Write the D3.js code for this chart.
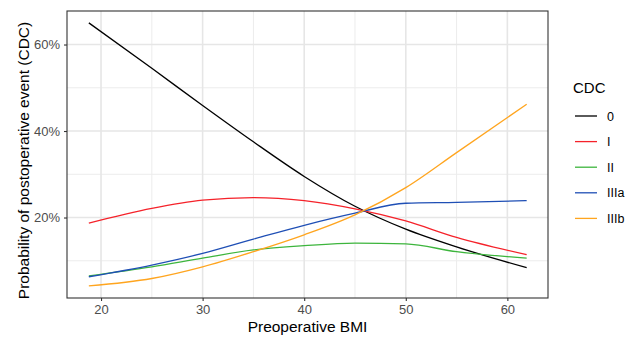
<!DOCTYPE html>
<html>
<head>
<meta charset="utf-8">
<script src="https://cdn.jsdelivr.net/npm/d3@7"></script>
<style>
  body { margin: 0; background: #fff; }
  svg text { font-family: "Liberation Sans", Arial, sans-serif; }
</style>
</head>
<body>
<div id="chart"></div>
<script>
// BMI grid the predictions were read at
const bmi = [18.8, 25, 30, 35, 40, 45, 50, 55, 61.9];

// predicted probability (%) per CDC grade
const cdc0    = [65.0, 54.5, 45.9, 37.5, 29.5, 22.6, 17.3, 13.2, 8.4];
const cdcI    = [18.7, 22.1, 24.0, 24.6, 23.9, 22.0, 19.2, 15.4, 11.4];
const cdcII   = [6.5, 8.6, 10.6, 12.5, 13.5, 14.1, 13.9, 12.1, 10.6];
const cdcIIIa = [6.3, 9.0, 11.7, 15.0, 18.2, 21.0, 23.3, 23.5, 23.9];
const cdcIIIb = [4.2, 5.9, 8.6, 12.1, 16.0, 20.6, 26.9, 35.0, 46.2];

const grades = ['0', 'I', 'II', 'IIIa', 'IIIb'];
const colors = ['#000000', '#f5222a', '#3db53d', '#1f4fb5', '#ffa51f'];

const xTicks = [20, 30, 40, 50, 60];
const xMinor = [25, 35, 45, 55];
const yTicks = [20, 40, 60];
const yMinor = [10, 30, 50];

const series = [cdc0, cdcI, cdcII, cdcIIIa, cdcIIIb].map((vals, i) => ({
    grade: grades[i],
    color: colors[i],
    values: vals.map((v, j) => ({ x: bmi[j], y: v }))
}));

const width = 640, height = 337;
const panel = { left: 67, right: 548, top: 11, bottom: 298 };

const svg = d3.select('#chart').append('svg')
    .attr('width', width)
    .attr('height', height);

const x = d3.scaleLinear().domain([16.65, 64.0]).range([panel.left, panel.right]);
const y = d3.scaleLinear().domain([1.39, 67.75]).range([panel.bottom, panel.top]);

// grid
const grid = svg.append('g');
grid.selectAll('.xminor').data(xMinor).enter().append('line')
    .attr('x1', d => x(d)).attr('x2', d => x(d))
    .attr('y1', panel.top).attr('y2', panel.bottom)
    .attr('stroke', '#ececec').attr('stroke-width', 1);
grid.selectAll('.yminor').data(yMinor).enter().append('line')
    .attr('y1', d => y(d)).attr('y2', d => y(d))
    .attr('x1', panel.left).attr('x2', panel.right)
    .attr('stroke', '#ececec').attr('stroke-width', 1);
grid.selectAll('.xmajor').data(xTicks).enter().append('line')
    .attr('x1', d => x(d)).attr('x2', d => x(d))
    .attr('y1', panel.top).attr('y2', panel.bottom)
    .attr('stroke', '#e6e6e6').attr('stroke-width', 1.6);
grid.selectAll('.ymajor').data(yTicks).enter().append('line')
    .attr('y1', d => y(d)).attr('y2', d => y(d))
    .attr('x1', panel.left).attr('x2', panel.right)
    .attr('stroke', '#e6e6e6').attr('stroke-width', 1.6);

// lines
const line = d3.line()
    .x(d => x(d.x))
    .y(d => y(d.y))
    .curve(d3.curveMonotoneX);

svg.append('g').selectAll('path')
    .data(series)
    .enter()
    .append('path')
    .attr('d', d => line(d.values))
    .attr('fill', 'none')
    .attr('stroke', d => d.color)
    .attr('stroke-width', 1.3);

// panel border
svg.append('rect')
    .attr('x', panel.left).attr('y', panel.top)
    .attr('width', panel.right - panel.left)
    .attr('height', panel.bottom - panel.top)
    .attr('fill', 'none')
    .attr('stroke', '#333333')
    .attr('stroke-width', 1.1);

// axes
const xAxis = svg.append('g')
    .attr('transform', `translate(0,${panel.bottom})`)
    .call(d3.axisBottom(x).tickValues(xTicks).tickSize(3).tickPadding(4));
const yAxis = svg.append('g')
    .attr('transform', `translate(${panel.left},0)`)
    .call(d3.axisLeft(y).tickValues(yTicks).tickSize(3).tickPadding(4).tickFormat(d => d + '%'));

[xAxis, yAxis].forEach(a => {
    a.select('.domain').remove();
    a.selectAll('.tick line').attr('stroke', '#333333').attr('stroke-width', 1.1);
    a.selectAll('.tick text')
        .attr('fill', '#4d4d4d')
        .style('font-size', '13px')
        .style('font-family', '"Liberation Sans", Arial, sans-serif');
});

// axis titles
svg.append('text')
    .attr('x', (panel.left + panel.right) / 2)
    .attr('y', 332)
    .attr('text-anchor', 'middle')
    .attr('fill', '#000')
    .style('font-size', '15.5px')
    .text('Preoperative BMI');

svg.append('text')
    .attr('transform', `translate(29,${(panel.top + panel.bottom) / 2 + 6}) rotate(-90)`)
    .attr('text-anchor', 'middle')
    .attr('fill', '#000')
    .style('font-size', '15.5px')
    .text('Probability of postoperative event (CDC)');

// legend
const legend = svg.append('g').attr('transform', 'translate(573,0)');
legend.append('text')
    .attr('x', 0).attr('y', 93)
    .attr('fill', '#000')
    .style('font-size', '15px')
    .text('CDC');

const item = legend.selectAll('.item')
    .data(series)
    .enter()
    .append('g')
    .attr('transform', (d, i) => `translate(0,${116 + i * 25.6})`);
item.append('line')
    .attr('x1', 2).attr('x2', 24)
    .attr('y1', 0).attr('y2', 0)
    .attr('stroke', d => d.color)
    .attr('stroke-width', 1.3);
item.append('text')
    .attr('x', 34).attr('y', 4.5)
    .attr('fill', '#000')
    .style('font-size', '12.5px')
    .text(d => d.grade);
</script>
</body>
</html>
